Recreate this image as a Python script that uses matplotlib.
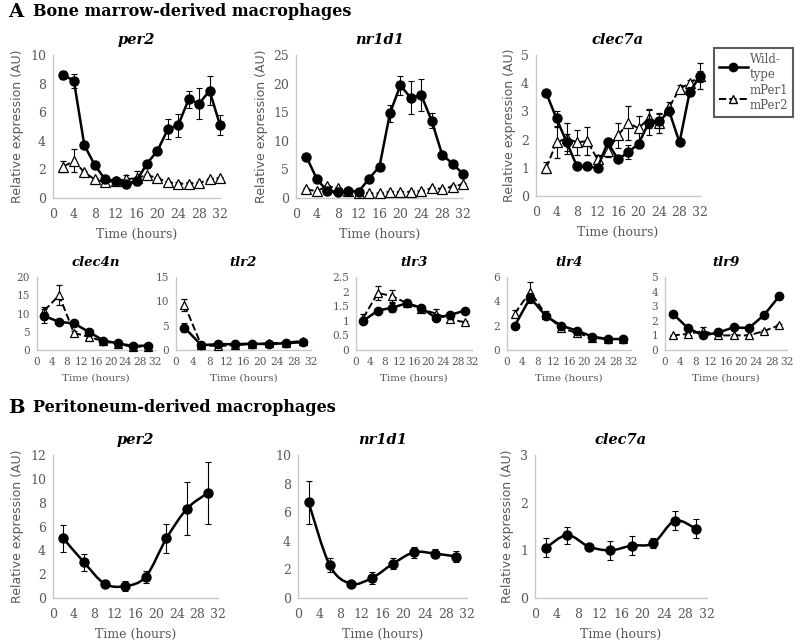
import numpy as np
import matplotlib
matplotlib.use("Agg")
import matplotlib.pyplot as plt
from matplotlib.path import Path
from matplotlib.patches import PathPatch
from matplotlib.lines import Line2D

# ---- data ----
hours_a = [2, 4, 6, 8, 10, 12, 14, 16, 18, 20, 22, 24, 26, 28, 30, 32]
hours_b = [2, 6, 10, 14, 18, 22, 26, 30]

per2_wt = [8.6, 8.2, 3.7, 2.3, 1.3, 1.2, 1.0, 1.2, 2.4, 3.3, 4.8, 5.1, 6.9, 6.6, 7.5, 5.1]
per2_wt_err = [0.3, 0.5, 0.1, 0.1, 0.1, 0.1, 0.1, 0.3, 0.2, 0.2, 0.7, 0.8, 0.6, 1.1, 1.0, 0.7]
per2_ko = [2.2, 2.6, 1.8, 1.3, 1.1, 1.2, 1.3, 1.4, 1.6, 1.4, 1.1, 1.0, 1.0, 1.05, 1.3, 1.4]
per2_ko_err = [0.4, 0.8, 0.1, 0.1, 0.1, 0.1, 0.3, 0.5, 0.1, 0.1, 0.1, 0.1, 0.1, 0.1, 0.1, 0.1]

nr1d1_wt = [7.2, 3.3, 1.2, 1.1, 1.3, 1.1, 3.4, 5.5, 14.8, 19.7, 17.5, 18.0, 13.5, 7.6, 6.0, 4.2]
nr1d1_wt_err = [0.3, 0.3, 0.2, 0.2, 0.2, 0.2, 0.3, 0.5, 1.5, 1.7, 2.9, 2.8, 1.3, 0.3, 0.3, 0.3]
nr1d1_ko = [1.5, 1.2, 2.1, 1.7, 1.3, 0.9, 0.8, 0.8, 1.1, 1.0, 1.1, 1.2, 1.7, 1.6, 2.0, 2.4]
nr1d1_ko_err = [0.2, 0.1, 0.2, 0.2, 0.1, 0.1, 0.1, 0.1, 0.1, 0.1, 0.1, 0.1, 0.2, 0.1, 0.2, 0.2]

clec7a_wt = [3.65, 2.75, 1.9, 1.05, 1.05, 1.0, 1.9, 1.3, 1.55, 1.85, 2.6, 2.65, 3.0, 1.9, 3.7, 4.25]
clec7a_wt_err = [0.1, 0.25, 0.3, 0.05, 0.05, 0.05, 0.1, 0.1, 0.25, 0.15, 0.45, 0.25, 0.1, 0.1, 0.15, 0.2]
clec7a_ko = [1.0, 1.9, 2.05, 1.9, 1.95, 1.3, 1.6, 2.15, 2.6, 2.4, 2.75, 2.6, 3.15, 3.8, 4.0, 4.25]
clec7a_ko_err = [0.2, 0.55, 0.55, 0.45, 0.5, 0.15, 0.2, 0.45, 0.6, 0.45, 0.35, 0.35, 0.2, 0.15, 0.1, 0.45]

clec4n_wt = [9.3, 7.7, 7.3, 5.0, 2.6, 1.8, 1.1, 1.2]
clec4n_wt_err = [1.8, 0.5, 0.5, 0.4, 0.3, 0.2, 0.2, 0.2]
clec4n_ko = [10.8, 15.0, 4.7, 3.6, 2.4, 1.6, 0.9, 0.9]
clec4n_ko_err = [1.0, 2.8, 0.5, 0.3, 0.2, 0.2, 0.1, 0.1]

tlr2_wt = [4.6, 1.0, 1.2, 1.2, 1.3, 1.2, 1.4, 1.6]
tlr2_wt_err = [1.0, 0.1, 0.2, 0.1, 0.1, 0.1, 0.1, 0.1]
tlr2_ko = [9.3, 1.0, 0.8, 1.0, 1.2, 1.4, 1.5, 1.9]
tlr2_ko_err = [1.2, 0.1, 0.1, 0.1, 0.1, 0.1, 0.1, 0.2]

tlr3_wt = [1.0, 1.35, 1.45, 1.6, 1.45, 1.1, 1.2, 1.35]
tlr3_wt_err = [0.05, 0.1, 0.15, 0.1, 0.1, 0.05, 0.05, 0.05]
tlr3_ko = [1.1, 1.95, 1.85, 1.6, 1.4, 1.25, 1.05, 0.95]
tlr3_ko_err = [0.15, 0.25, 0.2, 0.1, 0.1, 0.15, 0.1, 0.05]

tlr4_wt = [2.0, 4.3, 2.8, 2.0, 1.6, 1.1, 0.9, 0.9]
tlr4_wt_err = [0.1, 0.4, 0.2, 0.1, 0.1, 0.1, 0.1, 0.1]
tlr4_ko = [3.0, 4.8, 2.9, 1.8, 1.4, 1.0, 0.9, 0.9]
tlr4_ko_err = [0.3, 0.8, 0.3, 0.2, 0.2, 0.1, 0.1, 0.1]

tlr9_wt = [2.5, 1.5, 1.0, 1.2, 1.55, 1.5, 2.4, 3.7]
tlr9_wt_err = [0.2, 0.1, 0.1, 0.1, 0.1, 0.1, 0.1, 0.2]
tlr9_ko = [1.0, 1.1, 1.3, 1.0, 1.0, 1.0, 1.3, 1.7]
tlr9_ko_err = [0.05, 0.1, 0.3, 0.1, 0.1, 0.1, 0.1, 0.1]

pm_per2 = [5.0, 3.0, 1.2, 1.0, 1.8, 5.0, 7.5, 8.8]
pm_per2_err = [1.1, 0.7, 0.2, 0.4, 0.5, 1.2, 2.2, 2.6]
pm_nr1d1 = [6.7, 2.3, 1.0, 1.4, 2.4, 3.2, 3.1, 2.9]
pm_nr1d1_err = [1.5, 0.5, 0.1, 0.4, 0.4, 0.4, 0.3, 0.4]
pm_clec7a = [1.05, 1.32, 1.08, 1.0, 1.1, 1.15, 1.62, 1.45]
pm_clec7a_err = [0.2, 0.18, 0.05, 0.2, 0.2, 0.1, 0.2, 0.2]

SERIF = "DejaVu Serif"
SANS = "DejaVu Sans"
GREY = "#595959"
AXC = "#c8c8c8"

fig = plt.figure(figsize=(8, 6.43), dpi=100)


def px_axes(l, t, r, b):
    return fig.add_axes([l / 800, 1 - b / 643, (r - l) / 800, (b - t) / 643])


def style(ax, title, ymax, ystep, fs, ylabel, tfs, xpad=7):
    ax.set_xlim(0, 32)
    ax.set_ylim(0, ymax)
    ax.set_xticks(range(0, 33, 4))
    ax.set_yticks(np.arange(0, ymax + 1e-9, ystep))
    ax.yaxis.set_major_formatter(matplotlib.ticker.FormatStrFormatter("%g"))
    for s in ["top", "right"]:
        ax.spines[s].set_visible(False)
    for s in ["left", "bottom"]:
        ax.spines[s].set_color(AXC)
        ax.spines[s].set_linewidth(1.0)
    ax.tick_params(length=0, labelsize=fs, labelcolor=GREY, pad=5)
    ax.tick_params(axis="x", pad=xpad)
    for lab in ax.get_xticklabels() + ax.get_yticklabels():
        lab.set_family(SERIF)
    ax.set_title(title, fontsize=tfs, fontweight="bold", fontstyle="italic",
                 family=SERIF, pad=8)
    ax.set_xlabel("Time (hours)", fontsize=fs, color=GREY, family=SERIF, labelpad=5)
    if ylabel:
        ax.set_ylabel("Relative expression (AU)", fontsize=fs, color=GREY,
                      family=SANS, labelpad=4)
    ax.patch.set_alpha(0)


def unclip(cont):
    for art in cont.get_children():
        art.set_clip_on(False)


def pair(ax, x, wt, wte, ko, koe, ms):
    c = ax.errorbar(x, ko, yerr=koe, color="black", ls="--", lw=1.4, marker="^",
                    mfc="white", mec="black", ms=ms, mew=0.9, capsize=2.5,
                    elinewidth=0.8, capthick=0.8, zorder=3)
    unclip(c)
    c = ax.errorbar(x, wt, yerr=wte, color="black", ls="-", lw=1.8, marker="o",
                    mfc="black", mec="black", ms=ms, capsize=2.5,
                    elinewidth=0.8, capthick=0.8, zorder=4)
    unclip(c)


def smooth(ax, x, y):
    pts = np.column_stack([x, y]).astype(float)
    ext = np.vstack([pts[0], pts, pts[-1]])
    verts = [tuple(pts[0])]
    codes = [Path.MOVETO]
    for i in range(len(pts) - 1):
        p0, p1, p2, p3 = ext[i], ext[i + 1], ext[i + 2], ext[i + 3]
        c1 = p1 + (p2 - p0) / 6
        c2 = p2 - (p3 - p1) / 6
        verts += [tuple(c1), tuple(c2), tuple(p2)]
        codes += [Path.CURVE4] * 3
    ax.add_patch(PathPatch(Path(verts, codes), fill=False, lw=1.8,
                           ec="black", zorder=3))


# ---- panel A, top row ----
top = [
    ("per2", 10, 2, per2_wt, per2_wt_err, per2_ko, per2_ko_err, (53, 55, 220, 198)),
    ("nr1d1", 25, 5, nr1d1_wt, nr1d1_wt_err, nr1d1_ko, nr1d1_ko_err, (296, 55, 463, 198)),
    ("clec7a", 5, 1, clec7a_wt, clec7a_wt_err, clec7a_ko, clec7a_ko_err, (536, 55, 700, 196)),
]
for name, ymax, ystep, wt, wte, ko, koe, box in top:
    ax = px_axes(*box)
    pair(ax, hours_a, wt, wte, ko, koe, 6.5)
    style(ax, name, ymax, ystep, 9, True, 10.5)

# ---- panel A, middle row ----
mid = [
    ("clec4n", 20, 5, clec4n_wt, clec4n_wt_err, clec4n_ko, clec4n_ko_err, (37, 277, 155, 350)),
    ("tlr2", 15, 5, tlr2_wt, tlr2_wt_err, tlr2_ko, tlr2_ko_err, (176, 277, 311, 350)),
    ("tlr3", 2.5, 0.5, tlr3_wt, tlr3_wt_err, tlr3_ko, tlr3_ko_err, (356, 277, 472, 350)),
    ("tlr4", 6, 2, tlr4_wt, tlr4_wt_err, tlr4_ko, tlr4_ko_err, (507, 277, 631, 350)),
    ("tlr9", 5, 1, tlr9_wt, tlr9_wt_err, tlr9_ko, tlr9_ko_err, (665, 277, 787, 350)),
]
for name, ymax, ystep, wt, wte, ko, koe, box in mid:
    ax = px_axes(*box)
    pair(ax, hours_b, wt, wte, ko, koe, 6)
    style(ax, name, ymax, ystep, 7.6, False, 9.5, xpad=5)
    ax.xaxis.label.set_size(7.5)

# ---- panel B ----
bot = [
    ("per2", 12, 2, pm_per2, pm_per2_err, True, (53, 455, 218, 598)),
    ("nr1d1", 10, 2, pm_nr1d1, pm_nr1d1_err, False, (298, 455, 467, 598)),
    ("clec7a", 3, 1, pm_clec7a, pm_clec7a_err, True, (535, 455, 707, 598)),
]
for name, ymax, ystep, y, ye, ylab, box in bot:
    ax = px_axes(*box)
    smooth(ax, hours_b, y)
    c = ax.errorbar(hours_b, y, yerr=ye, ls="none", marker="o", color="black",
                    ms=6.5, capsize=2.5, elinewidth=0.8, capthick=0.8, zorder=4)
    unclip(c)
    style(ax, name, ymax, ystep, 9, ylab, 10.5)

# ---- section headings ----
fig.text(8 / 800, 1 - 12 / 643, "A", fontsize=14, fontweight="bold", family=SERIF, va="center")
fig.text(33 / 800, 1 - 12 / 643, "Bone marrow-derived macrophages", fontsize=11.5,
         fontweight="bold", family=SERIF, va="center")
fig.text(8 / 800, 1 - 408 / 643, "B", fontsize=14, fontweight="bold", family=SERIF, va="center")
fig.text(33 / 800, 1 - 408 / 643, "Peritoneum-derived macrophages", fontsize=11.5,
         fontweight="bold", family=SERIF, va="center")

# ---- legend ----
handles = [
    Line2D([], [], color="black", ls="-", lw=1.8, marker="o", ms=6),
    Line2D([], [], color="black", ls="--", lw=1.4, marker="^", mfc="white", ms=6),
]
leg = fig.legend(handles, ["Wild-\ntype", "mPer1\nmPer2"], loc="upper right",
                 bbox_to_anchor=(799 / 800, 1 - 42 / 643), frameon=True,
                 prop={"family": SERIF, "size": 8.5}, handlelength=2.4,
                 handletextpad=0.2, borderpad=0.4, labelspacing=0.3,
                 fancybox=False)
leg.get_frame().set_edgecolor("#333333")
leg.get_frame().set_linewidth(1.5)
for t in leg.get_texts():
    t.set_color(GREY)

fig.savefig("out.png", dpi=100)
